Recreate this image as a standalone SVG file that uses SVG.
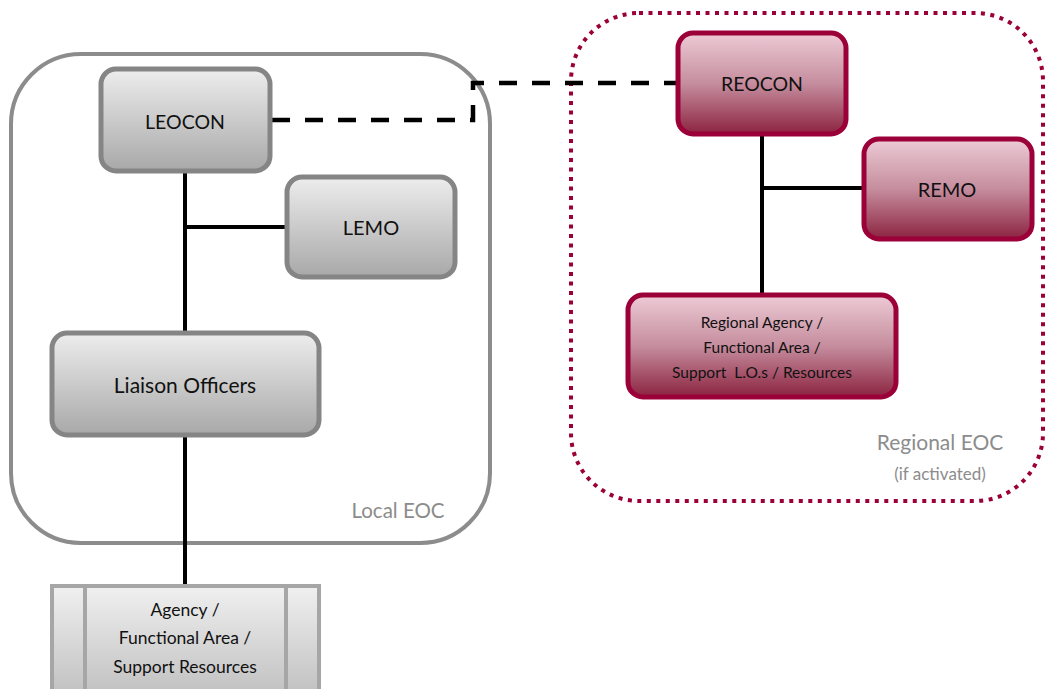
<svg xmlns="http://www.w3.org/2000/svg" width="1045" height="689" viewBox="0 0 1045 689">
  <defs>
    <linearGradient id="gGray" x1="0" y1="0" x2="0" y2="1">
      <stop offset="0" stop-color="#ededed"/>
      <stop offset="1" stop-color="#a8a8a8"/>
    </linearGradient>
    <linearGradient id="gGrayLight" x1="0" y1="0" x2="0" y2="1">
      <stop offset="0" stop-color="#f0f0f0"/>
      <stop offset="1" stop-color="#c2c2c2"/>
    </linearGradient>
    <linearGradient id="gRed" x1="0" y1="0" x2="0" y2="1">
      <stop offset="0" stop-color="#edcbd6"/>
      <stop offset="0.5" stop-color="#c58d9e"/>
      <stop offset="1" stop-color="#8c2340"/>
    </linearGradient>
    <style>
      text { font-family: Lato, "Open Sans", "Liberation Sans", sans-serif; fill: #111; text-anchor: middle; }
      .grayNode { fill: url(#gGray); stroke: #858585; stroke-width: 5; }
      .redNode { fill: url(#gRed); stroke: #9b0038; stroke-width: 5; }
      .link { stroke: #000; stroke-width: 4; fill: none; }
      .dash { stroke: #000; stroke-width: 4.5; fill: none; stroke-dasharray: 18 15; }
      .label { fill: #8c8c8c; }
    </style>
  </defs>

  <!-- Local EOC boundary -->
  <g id="local-eoc">
    <rect x="11" y="54" width="479" height="489" rx="70" ry="70" fill="none" stroke="#8c8c8c" stroke-width="4"/>
    <text class="label" x="398" y="518" font-size="20.5">Local EOC</text>
  </g>

  <!-- Regional EOC boundary (dotted) -->
  <g id="regional-eoc">
    <rect x="571" y="13" width="472" height="488" rx="68" ry="68" fill="none" stroke="#9b0038" stroke-width="4" stroke-dasharray="4 5.5"/>
    <text class="label" x="940" y="450" font-size="21">Regional EOC</text>
    <text class="label" x="940" y="480" font-size="17">(if activated)</text>
  </g>

  <!-- Connectors -->
  <g id="connectors">
    <path class="link" d="M185 172 V585"/>
    <path class="link" d="M185 227 H288"/>
    <path class="link" d="M762 135 V295"/>
    <path class="link" d="M762 188 H864"/>
    <path class="dash" d="M272 120 H473 V83 H676"/>
  </g>

  <!-- Local nodes -->
  <g id="leocon">
    <rect class="grayNode" x="101" y="69" width="169" height="102" rx="15"/>
    <text x="185" y="129" font-size="19.5">LEOCON</text>
  </g>
  <g id="lemo">
    <rect class="grayNode" x="287" y="177" width="168" height="100" rx="15"/>
    <text x="371" y="235" font-size="20">LEMO</text>
  </g>
  <g id="liaison-officers">
    <rect class="grayNode" x="52" y="333" width="267" height="102" rx="15"/>
    <text x="185" y="393" font-size="21">Liaison Officers</text>
  </g>
  <g id="agency">
    <rect x="52" y="586" width="267" height="106" fill="url(#gGrayLight)" stroke="#a6a6a6" stroke-width="4"/>
    <line x1="85" y1="586" x2="85" y2="689" stroke="#a6a6a6" stroke-width="4"/>
    <line x1="286" y1="586" x2="286" y2="689" stroke="#a6a6a6" stroke-width="4"/>
    <text x="185" y="616" font-size="17.5">Agency /</text>
    <text x="185" y="644" font-size="17.5">Functional Area /</text>
    <text x="185" y="673" font-size="17.5">Support Resources</text>
  </g>

  <!-- Regional nodes -->
  <g id="reocon">
    <rect class="redNode" x="678" y="33" width="168" height="101" rx="15"/>
    <text x="762" y="91" font-size="19.5">REOCON</text>
  </g>
  <g id="remo">
    <rect class="redNode" x="864" y="139" width="168" height="100" rx="15"/>
    <text x="947" y="197" font-size="20">REMO</text>
  </g>
  <g id="regional-agency">
    <rect class="redNode" x="628" y="295" width="268" height="102" rx="15"/>
    <text x="762" y="328" font-size="15.5">Regional Agency /</text>
    <text x="762" y="353" font-size="15.5">Functional Area /</text>
    <text x="762" y="378" font-size="15.5">Support&#160; L.O.s / Resources</text>
  </g>
</svg>
